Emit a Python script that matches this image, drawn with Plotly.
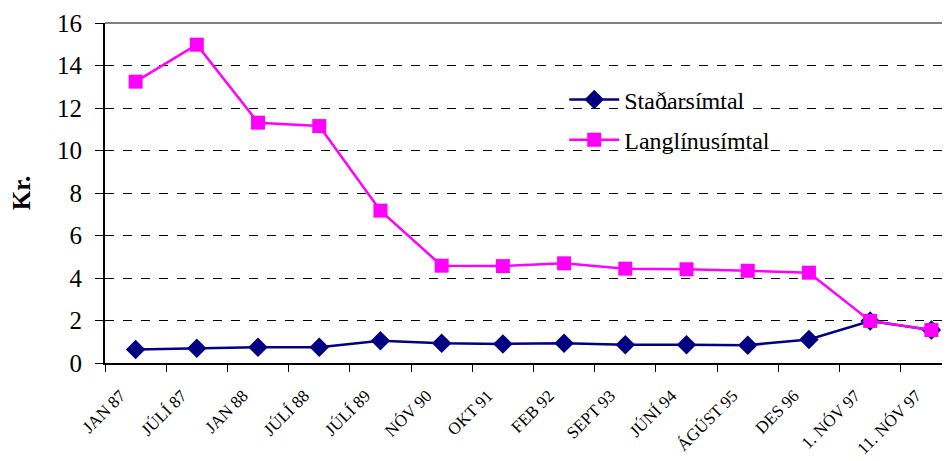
import plotly.graph_objects as go

categories = ["JAN 87", "JÚLÍ 87", "JAN 88", "JÚLÍ 88", "JÚLÍ 89", "NÓV 90", "OKT 91",
              "FEB 92", "SEPT 93", "JÚNÍ 94", "ÁGÚST 95", "DES 96", "1. NÓV 97", "11. NÓV 97"]
stadarsimtal = [0.64, 0.69, 0.74, 0.74, 1.05, 0.93, 0.90, 0.93, 0.86, 0.86, 0.84, 1.11, 1.98, 1.55]
langlinusimtal = [13.24, 14.98, 11.31, 11.15, 7.17, 4.58, 4.56, 4.69, 4.44, 4.41, 4.34, 4.25, 1.98, 1.55]

font = "Liberation Serif, Times New Roman, serif"

fig = go.Figure()
fig.add_trace(go.Scatter(x=categories, y=stadarsimtal, name="Staðarsímtal",
                         mode="lines+markers", legendgroup="a",
                         line=dict(color="#000080", width=2.5),
                         marker=dict(symbol="diamond", size=15, color="#000080")))
fig.add_trace(go.Scatter(x=categories, y=langlinusimtal, name="Langlínusímtal",
                         mode="lines+markers", legendgroup="b",
                         line=dict(color="#FF00FF", width=2.5),
                         marker=dict(symbol="square", size=14, color="#FF00FF")))

# grey plot-area border along the top
fig.add_shape(type="line", xref="paper", yref="paper", x0=0, x1=1, y0=1, y1=1,
              line=dict(color="#808080", width=2), layer="below")

fig.update_layout(
    width=942, height=453,
    margin=dict(l=97, r=7, t=15, b=98, autoexpand=False),
    paper_bgcolor="white", plot_bgcolor="white",
    font=dict(family=font, color="black"),
    showlegend=True,
    legend=dict(x=0.548, y=0.84, xanchor="left", yanchor="top",
                font=dict(size=24, family=font), bgcolor="rgba(0,0,0,0)",
                tracegroupgap=6, itemwidth=50),
    xaxis=dict(type="category", range=[-0.5, 13.19], tickson="boundaries",
               ticks="outside", ticklen=7, tickcolor="black",
               showline=True, linecolor="black", linewidth=2,
               showgrid=False, tickangle=-45, automargin=False,
               ticklabelstandoff=14, ticklabelshift=-15,
               tickfont=dict(size=17, family=font)),
    yaxis=dict(range=[0, 16], dtick=2, ticks="outside", ticklen=8, tickcolor="black",
               showline=True, linecolor="black", linewidth=2,
               showgrid=True, gridcolor="black", griddash="dash", gridwidth=1,
               zeroline=False, automargin=False, ticklabelstandoff=8,
               tickfont=dict(size=25, family=font),
               title=dict(text="<b>Kr.</b>", font=dict(size=25, family=font), standoff=19)),
)

fig.write_html("out.html")
